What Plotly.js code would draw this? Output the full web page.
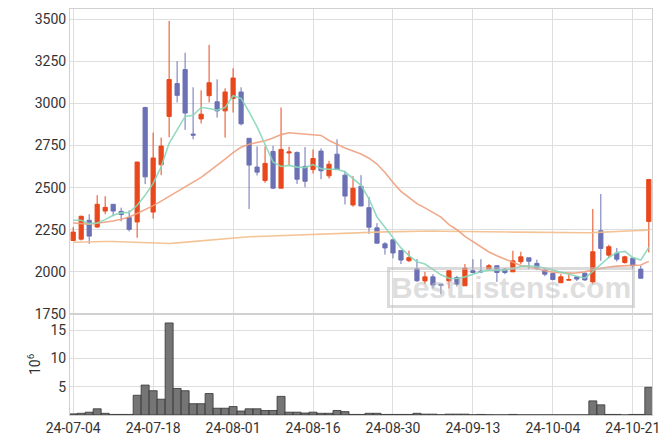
<!DOCTYPE html>
<html>
<head>
<meta charset="utf-8">
<script src="https://cdn.plot.ly/plotly-3.0.1.min.js"></script>
<style>html,body{margin:0;padding:0;background:#fff;}#chart{width:671px;height:444px;}</style>
</head>
<body>
<div id="chart"></div>
<script>
const dates = ["24-07-04","24-07-05","24-07-08","24-07-09","24-07-10","24-07-11","24-07-12","24-07-15","24-07-16","24-07-17",
"24-07-18","24-07-19","24-07-22","24-07-23","24-07-24","24-07-25","24-07-26","24-07-29","24-07-30","24-07-31",
"24-08-01","24-08-02","24-08-05","24-08-06","24-08-07","24-08-08","24-08-09","24-08-12","24-08-13","24-08-14",
"24-08-16","24-08-19","24-08-20","24-08-21","24-08-22","24-08-23","24-08-26","24-08-27","24-08-28","24-08-29",
"24-08-30","24-09-02","24-09-03","24-09-04","24-09-05","24-09-06","24-09-09","24-09-10","24-09-11","24-09-12",
"24-09-13","24-09-19","24-09-20","24-09-23","24-09-24","24-09-25","24-09-26","24-09-27","24-09-30","24-10-02",
"24-10-04","24-10-07","24-10-08","24-10-10","24-10-11","24-10-14","24-10-15","24-10-16","24-10-17","24-10-18",
"24-10-21","24-10-22","24-10-23"];

const openP  = [2186,2194,2306,2266,2361,2401,2359,2322,2296,2976,2355,2636,2923,3118,3201,2818,2908,3046,3010,2956,
3030,3068,2793,2622,2542,2715,2497,2706,2709,2626,2607,2717,2570,2699,2574,2397,2508,2381,2261,2166,
2190,2126,2066,2018,1946,1970,1927,1946,1966,1917,2006,2004,2016,2036,2016,2000,2060,2083,2050,2010,
1990,1935,1950,1970,1992,1940,2244,2099,2111,2055,2081,2016,2299];
const highP  = [2266,2333,2342,2455,2449,2401,2381,2365,2652,2980,2827,2797,3490,3251,3301,3096,3078,3348,3143,3090,
3209,3096,2793,2745,2745,2749,2976,2743,2715,2741,2727,2733,2659,2787,2600,2568,2574,2444,2289,2176,
2190,2126,2126,2076,2000,1986,1927,2006,1976,2046,2075,2075,2046,2036,2022,2125,2119,2083,2072,2016,
1990,1986,1986,1970,1996,2373,2462,2161,2141,2095,2081,2036,2548];
const lowP   = [2183,2186,2166,2262,2342,2330,2300,2240,2202,2521,2316,2574,2799,3006,2843,2787,2881,3006,2916,2797,
2946,2870,2373,2572,2528,2493,2497,2634,2522,2502,2584,2550,2554,2607,2400,2387,2391,2225,2170,2102,
2080,2046,2058,1940,1927,1901,1867,1901,1913,1917,1992,1992,2016,1940,1986,2000,2046,2016,2010,1974,
1950,1935,1950,1946,1946,1926,2065,2081,2061,2049,2016,1962,2115];
const closeP = [2236,2330,2212,2401,2383,2361,2340,2252,2652,2564,2676,2747,3142,3048,2943,2812,2936,3123,2956,3068,
3151,2879,2634,2592,2644,2497,2727,2712,2550,2538,2673,2600,2639,2607,2450,2496,2391,2265,2170,2142,
2112,2070,2084,1947,1970,1921,1921,2006,1927,2022,1996,2000,2036,1996,1996,2065,2089,2063,2018,1986,
1954,1970,1954,1957,1952,2119,2139,2149,2075,2089,2036,1962,2548];

const ma5 = [2306,2306,2286,2290,2310,2336,2350,2353,2395,2455,2525,2624,2763,2843,2923,2930,2976,2970,2960,2976,
3046,3030,2950,2861,2761,2652,2626,2632,2622,2619,2637,2613,2609,2609,2594,2554,2514,2434,2325,2265,
2206,2142,2096,2060,2046,2016,1982,1962,1960,1970,1986,2000,2010,2012,2010,2020,2032,2036,2032,2022,
2010,1996,1982,1970,1962,2002,2046,2085,2115,2121,2085,2070,2145];
const ma20 = [2290,2286,2283,2288,2294,2302,2312,2326,2346,2368,2393,2420,2448,2474,2502,2530,2561,2596,2631,2670,
2708,2740,2758,2768,2778,2795,2815,2826,2822,2820,2818,2810,2780,2755,2735,2718,2700,2675,2640,2590,
2530,2478,2440,2405,2380,2353,2325,2280,2250,2210,2178,2145,2118,2095,2075,2058,2038,2030,2016,2006,
1998,1994,1992,1994,2000,2012,2022,2028,2034,2036,2036,2040,2062];
const maLong = [2176,2178,2180,2180,2180,2180,2178,2175,2172,2170,2168,2167,2168,2172,2176,2180,2184,2188,2192,2198,
2204,2206,2208,2210,2212,2213,2214,2215,2216,2218,2222,2224,2226,2228,2230,2232,2234,2235,2236,2237,
2238,2239,2240,2242,2244,2242,2241,2240,2240,2239,2239,2238,2238,2237,2237,2236,2236,2235,2235,2234,
2234,2233,2233,2232,2232,2233,2236,2238,2240,2242,2244,2246,2248];

const volumeMillions = [0.2,0.3,0.5,1.1,0.3,0.1,0.1,0.1,3.5,5.3,4.3,2.8,16.3,4.7,4.3,2.0,2.0,3.8,1.2,1.2,
1.5,0.7,1.1,1.1,0.8,0.8,3.3,0.5,0.5,0.35,0.5,0.3,0.3,0.8,0.6,0.1,0.1,0.3,0.3,0.1,
0.1,0.1,0.1,0.3,0.15,0.15,0.05,0.15,0.15,0.15,0.05,0.1,0.05,0.03,0.03,0.1,0.03,0.03,0.03,0.03,
0.03,0.03,0.03,0.03,0.03,2.5,1.8,0.1,0.1,0.02,0.1,0.1,4.9];

const tickLabels = ["24-07-04","24-07-18","24-08-01","24-08-16","24-08-30","24-09-13","24-10-04","24-10-21"];
const volTicks = [5,10,15];

const upColor = '#e8481c';
const downColor = '#6b71b4';

const traces = [
  {type:'candlestick', x:dates, open:openP, high:highP, low:lowP, close:closeP,
   xaxis:'x', yaxis:'y', whiskerwidth:0,
   increasing:{line:{color:upColor,width:1}, fillcolor:upColor},
   decreasing:{line:{color:downColor,width:1}, fillcolor:downColor},
   hoverinfo:'skip', showlegend:false},
  {type:'scatter', mode:'lines', x:dates, y:maLong, line:{color:'rgba(243,190,140,0.9)', width:1.6}, hoverinfo:'skip', showlegend:false},
  {type:'scatter', mode:'lines', x:dates, y:ma20, line:{color:'rgba(238,160,125,0.9)', width:1.6}, hoverinfo:'skip', showlegend:false},
  {type:'scatter', mode:'lines', x:dates, y:ma5, line:{color:'rgba(135,215,185,0.9)', width:1.6}, hoverinfo:'skip', showlegend:false},
  {type:'bar', x:dates, y:volumeMillions, xaxis:'x', yaxis:'y2',
   marker:{color:'rgba(110,110,110,0.95)', line:{color:'#333', width:0.8}},
   hoverinfo:'skip', showlegend:false}
];

const gridC = '#dedede';
const layout = {
  width:671, height:444,
  margin:{l:70, r:19, t:9, b:29},
  paper_bgcolor:'#fff', plot_bgcolor:'#fff',
  font:{family:'Roboto, sans-serif', size:14, color:'#333'},
  showlegend:false,
  boxgap:0.25,
  bargap:0,
  xaxis:{type:'category', anchor:'y2', range:[-0.4,72.4], rangeslider:{visible:false},
         tickmode:'array', tickvals:tickLabels, ticktext:tickLabels,
         showgrid:true, gridcolor:gridC, showline:true, linecolor:'#d0d0d0', mirror:'all',
         ticks:'', tickfont:{size:14, color:'#333'}, fixedrange:true},
  yaxis:{domain:[0.249,1], range:[1750,3561], dtick:250, tick0:1750,
         showgrid:true, gridcolor:gridC, showline:true, linecolor:'#d0d0d0', mirror:true,
         ticks:'', zeroline:false, tickfont:{size:14, color:'#333'}},
  yaxis2:{domain:[0,0.249], range:[0,17.9], tickmode:'array', tickvals:volTicks, ticktext:volTicks.map(String),
          showgrid:true, gridcolor:gridC, showline:true, linecolor:'#d0d0d0', mirror:true,
          ticks:'', zeroline:false, tickfont:{size:14, color:'#333'},
          title:{text:'10<sup>6</sup>', font:{size:14, color:'#333'}, standoff:6}},
  annotations:[{xref:'paper', yref:'paper', x:0.758, y:0.313, xanchor:'center', yanchor:'middle',
    text:'<b>BestListens.com</b>', showarrow:false,
    font:{family:'Liberation Sans, Arial, sans-serif', size:30, color:'rgba(190,190,190,0.5)'},
    bordercolor:'rgba(190,190,190,0.55)', borderwidth:3, borderpad:1}]
};

Plotly.newPlot('chart', traces, layout, {staticPlot:true, displayModeBar:false});
</script>
</body>
</html>
